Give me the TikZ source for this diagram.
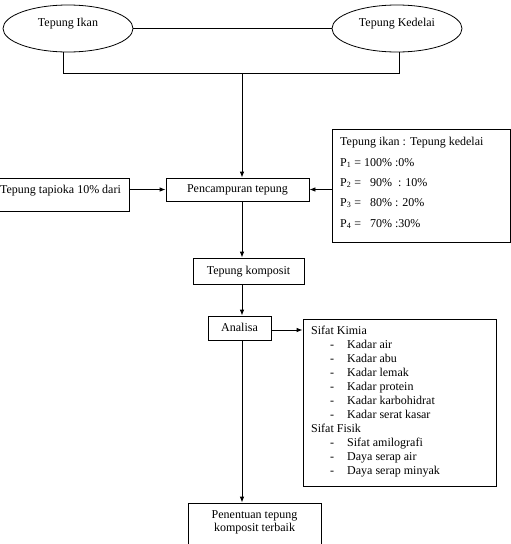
\documentclass[tikz,border=0pt]{standalone}
\usepackage{fontspec}
\setmainfont{Liberation Serif}
\usetikzlibrary{arrows.meta,shapes.geometric}
\begin{document}
\begin{tikzpicture}[x=1pt,y=-1pt,
  every node/.style={font=\fontsize{12}{13}\selectfont, inner sep=0pt, text height=8.5pt, text depth=2.5pt},
  ell/.style={draw, ellipse, line width=0.8pt, minimum width=130pt, minimum height=47pt},
  box/.style={draw, rectangle, line width=0.8pt},
  conn/.style={line width=0.8pt},
  arr/.style={line width=0.8pt, -{Latex[length=6pt,width=4.5pt]}}]
\useasboundingbox (0,0) rectangle (511,544);
\clip (0,0) rectangle (511,544);

% top ellipses
\node[ell] (e1) at (68,28.5) {};
\node (t1) at (68,23) {Tepung Ikan};
\node[ell] (e2) at (397,28.5) {};
\node (t2) at (397,23) {Tepung Kedelai};
\draw[conn] (e1.east) -- (e2.west);

% bracket
\coordinate (bl) at (63,73);
\coordinate (br) at (399,73);
\coordinate (bm) at (242,73);
\draw[conn] (bl |- e1.south) -- (bl) -- (br) -- (br |- e2.south);

% mixing
\node[box, minimum width=143pt, minimum height=23pt] (mix) at (237.5,189.5) {Pencampuran tepung};
\draw[arr] (bm) -- (bm |- mix.north);

% tapioka
\node[box, minimum width=131pt, minimum height=33pt] (tap) at (63.5,194.5) {};
\node (tapt) at (60.5,190) {Tepung tapioka 10\% dari};
\draw[arr] (tap.east |- mix.west) -- (mix.west);

% P box
\node[box, minimum width=178.5pt, minimum height=113pt] (pbox) at (421.25,185.5) {};
\node[anchor=west] (p0) at (340,142) {Tepung ikan : Tepung kedelai};
\node[anchor=west] (p1) at (340,163) {P\textsubscript{1} = 100\% :0\%};
\node[anchor=west] (p2) at (340,183) {P\textsubscript{2} = \phantom{1}90\%\ \ : 10\%};
\node[anchor=west] (p3) at (340,203) {P\textsubscript{3} = \phantom{1}80\% : 20\%};
\node[anchor=west] (p4) at (340,224) {P\textsubscript{4} = \phantom{1}70\% :30\%};
\draw[arr] (pbox.west |- mix.east) -- (mix.east);

% komposit
\node[box, minimum width=111pt, minimum height=26pt] (komp) at (248.5,271) {Tepung komposit};
\draw[arr] (mix.south -| bm) -- (komp.north -| bm);

% analisa
\node[box, minimum width=63pt, minimum height=24pt] (ana) at (239.5,328) {Analisa};
\draw[arr] (komp.south -| bm) -- (ana.north -| bm);

% sifat box
\node[box, minimum width=193pt, minimum height=167pt] (sif) at (399.5,402.5) {};
\draw[arr] (ana.east) ++(0,2) coordinate (ae) -- (ae -| sif.west);
\node[anchor=west] (s0) at (311,331) {Sifat Kimia};
\foreach \i/\y/\t in {1/345/Kadar air, 2/359/Kadar abu, 3/373/Kadar lemak, 4/387/Kadar protein, 5/401/Kadar karbohidrat, 6/415/Kadar serat kasar}{
  \node[anchor=west] (d\i) at (330,\y) {-};
  \node[anchor=west] (k\i) at (347,\y) {\t};
}
\node[anchor=west] (s1) at (311,429) {Sifat Fisik};
\foreach \i/\y/\t in {7/443/Sifat amilografi, 8/457/Daya serap air, 9/471/Daya serap minyak}{
  \node[anchor=west] (d\i) at (330,\y) {-};
  \node[anchor=west] (k\i) at (347,\y) {\t};
}

% penentuan
\node[box, minimum width=133pt, minimum height=46pt] (pen) at (254.5,526) {};
\node[align=center, text height=, text depth=] (pent) at (254.5,522.5) {Penentuan tepung\\komposit terbaik};
\draw[arr] (ana.south -| bm) -- (pen.north -| bm);
\end{tikzpicture}
\end{document}
